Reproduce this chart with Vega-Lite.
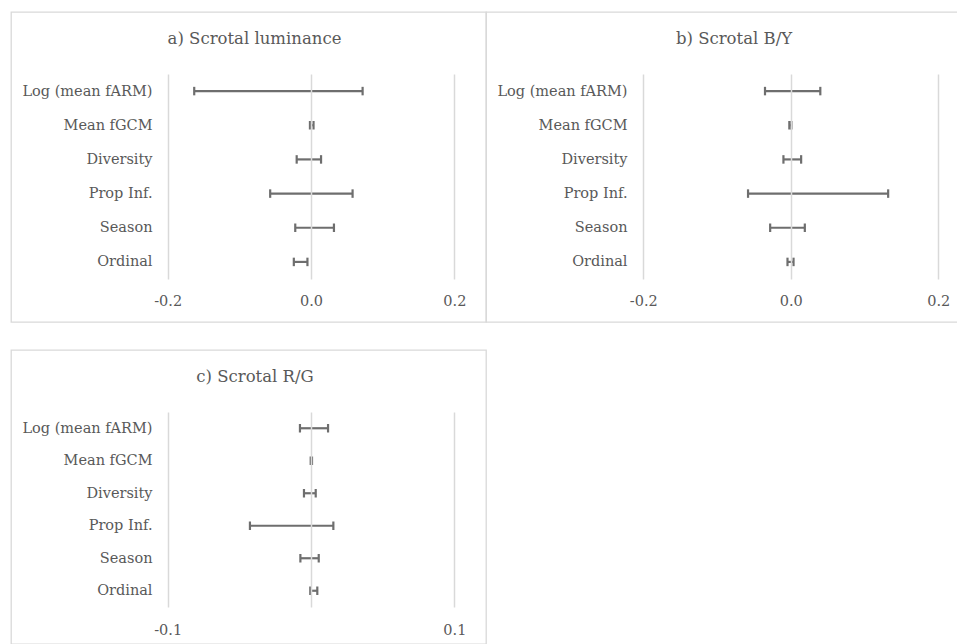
{
  "$schema": "https://vega.github.io/schema/vega-lite/v6.json",
  "padding": {"left": 10, "top": 11, "right": 0, "bottom": 0},
  "background": "white",
  "spacing": 26,
  "config": {
    "font": "DejaVu Serif",
    "view": {"stroke": "#d9d9d9", "strokeWidth": 1.3},
    "title": {"font": "DejaVu Serif", "fontSize": 16.5, "fontWeight": "normal", "color": "#595959", "anchor": "middle", "baseline": "middle"},
    "axis": {"labelFont": "DejaVu Serif", "labelColor": "#595959", "labelFontSize": 14.5, "domain": false, "ticks": false, "tickSize": 0, "title": null},
    "tick": {"opacity": 1},
    "rule": {"opacity": 1}
  },
  "datasets": {
    "lum": [
      {"term": "Log (mean fARM)", "lower": -0.163, "upper": 0.072},
      {"term": "Mean fGCM", "lower": -0.0015, "upper": 0.0035},
      {"term": "Diversity", "lower": -0.020, "upper": 0.014},
      {"term": "Prop Inf.", "lower": -0.057, "upper": 0.058},
      {"term": "Season", "lower": -0.022, "upper": 0.032},
      {"term": "Ordinal", "lower": -0.024, "upper": -0.005}
    ],
    "by": [
      {"term": "Log (mean fARM)", "lower": -0.035, "upper": 0.040},
      {"term": "Mean fGCM", "lower": -0.002, "upper": 0.0008},
      {"term": "Diversity", "lower": -0.010, "upper": 0.014},
      {"term": "Prop Inf.", "lower": -0.058, "upper": 0.132},
      {"term": "Season", "lower": -0.028, "upper": 0.019},
      {"term": "Ordinal", "lower": -0.0045, "upper": 0.0037}
    ],
    "rg": [
      {"term": "Log (mean fARM)", "lower": -0.0077, "upper": 0.0119},
      {"term": "Mean fGCM", "lower": -0.0002, "upper": 0.0007},
      {"term": "Diversity", "lower": -0.0049, "upper": 0.0033},
      {"term": "Prop Inf.", "lower": -0.0426, "upper": 0.0156},
      {"term": "Season", "lower": -0.0074, "upper": 0.0054},
      {"term": "Ordinal", "lower": -0.0005, "upper": 0.0044}
    ]
  },
  "vconcat": [
    {
      "hconcat": [
        {
          "width": 475, "height": 310,
          "title": {"text": "a) Scrotal luminance", "offset": -35, "dx": 6},
          "data": {"name": "lum"},
          "encoding": {
            "y": {"field": "term", "type": "nominal", "sort": null,
                  "scale": {"type": "point", "padding": 0.5, "range": [62, 267]},
                  "axis": {"orient": "left", "offset": -141, "labelPadding": 0, "grid": false}}
          },
          "layer": [
            {"mark": {"type": "rule", "color": "#6e6e6e", "strokeWidth": 2.2},
             "encoding": {
               "x": {"field": "lower", "type": "quantitative",
                     "scale": {"domain": [-0.4187, 0.2442], "nice": false, "zero": false},
                     "axis": {"orient": "top", "values": [-0.2, 0, 0.2], "format": ".1f", "labelExpr": "replace(datum.label, '\u2212', '-')", "grid": true, "gridColor": "#d9d9d9", "gridWidth": 1.5, "zindex": 1, "offset": -289, "labelPadding": 0, "labelBaseline": "middle"}},
               "x2": {"field": "upper"}}},
            {"mark": {"type": "tick", "color": "#6e6e6e", "size": 8.5, "thickness": 2.2},
             "encoding": {"x": {"field": "lower", "type": "quantitative"}}},
            {"mark": {"type": "tick", "color": "#6e6e6e", "size": 8.5, "thickness": 2.2},
             "encoding": {"x": {"field": "upper", "type": "quantitative"}}}
          ]
        },
        {
          "width": 472, "height": 310,
          "title": {"text": "b) Scrotal B/Y", "offset": -35, "dx": 12},
          "data": {"name": "by"},
          "encoding": {
            "y": {"field": "term", "type": "nominal", "sort": null,
                  "scale": {"type": "point", "padding": 0.5, "range": [62, 267]},
                  "axis": {"orient": "left", "offset": -141, "labelPadding": 0, "grid": false}}
          },
          "layer": [
            {"mark": {"type": "rule", "color": "#6e6e6e", "strokeWidth": 2.2},
             "encoding": {
               "x": {"field": "lower", "type": "quantitative",
                     "scale": {"domain": [-0.4133, 0.2267], "nice": false, "zero": false},
                     "axis": {"orient": "top", "values": [-0.2, 0, 0.2], "format": ".1f", "labelExpr": "replace(datum.label, '\u2212', '-')", "grid": true, "gridColor": "#d9d9d9", "gridWidth": 1.5, "zindex": 1, "offset": -289, "labelPadding": 0, "labelBaseline": "middle"}},
               "x2": {"field": "upper"}}},
            {"mark": {"type": "tick", "color": "#6e6e6e", "size": 8.5, "thickness": 2.2},
             "encoding": {"x": {"field": "lower", "type": "quantitative"}}},
            {"mark": {"type": "tick", "color": "#6e6e6e", "size": 8.5, "thickness": 2.2},
             "encoding": {"x": {"field": "upper", "type": "quantitative"}}}
          ]
        }
      ],
      "spacing": 0,
      "bounds": "flush"
    },
    {
      "width": 475, "height": 294,
      "title": {"text": "c) Scrotal R/G", "offset": -35, "dx": 6.5},
      "data": {"name": "rg"},
      "encoding": {
        "y": {"field": "term", "type": "nominal", "sort": null,
              "scale": {"type": "point", "padding": 0.5, "range": [62, 257]},
              "axis": {"orient": "left", "offset": -141, "labelPadding": 0, "grid": false}}
      },
      "layer": [
        {"mark": {"type": "rule", "color": "#6e6e6e", "strokeWidth": 2.2},
         "encoding": {
           "x": {"field": "lower", "type": "quantitative",
                 "scale": {"domain": [-0.2093, 0.1221], "nice": false, "zero": false},
                 "axis": {"orient": "top", "values": [-0.1, 0, 0.1], "format": ".1f", "grid": true, "gridColor": "#d9d9d9", "gridWidth": 1.5, "zindex": 1, "offset": -280, "labelPadding": 0, "labelBaseline": "middle", "labelExpr": "datum.value == 0 ? '' : replace(datum.label, '\u2212', '-')"}},
           "x2": {"field": "upper"}}},
        {"mark": {"type": "tick", "color": "#6e6e6e", "size": 8.5, "thickness": 2.2},
         "encoding": {"x": {"field": "lower", "type": "quantitative"}}},
        {"mark": {"type": "tick", "color": "#6e6e6e", "size": 8.5, "thickness": 2.2},
         "encoding": {"x": {"field": "upper", "type": "quantitative"}}}
      ]
    }
  ]
}
